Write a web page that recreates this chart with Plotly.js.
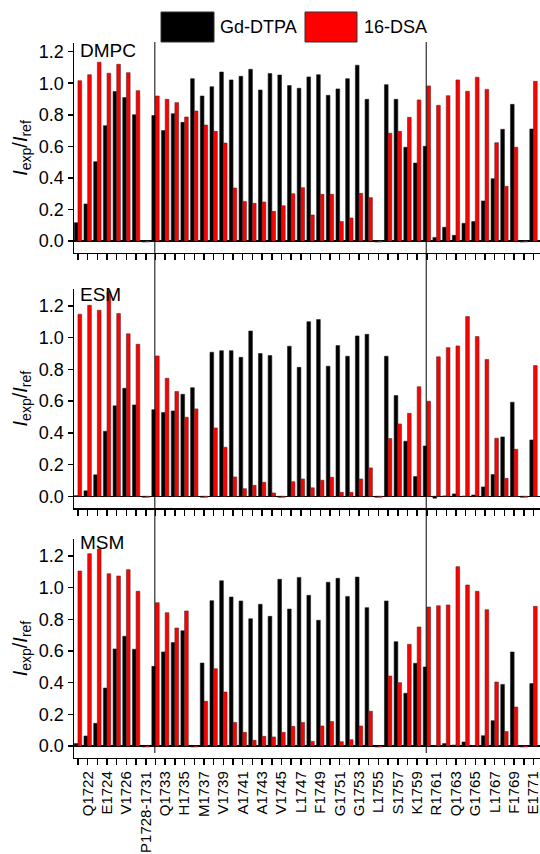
<!DOCTYPE html>
<html>
<head>
<meta charset="utf-8">
<script src="https://cdn.plot.ly/plotly-3.0.1.min.js"></script>
<style>html,body{margin:0;padding:0;background:#fff;}#chart{width:540px;height:854px;}</style>
</head>
<body>
<div id="chart"></div>
<script>
// Residue categories (x axis)
const categories = ['1721','Q1722','1723','E1724','1725','V1726','1727','P1728-1731','1732','Q1733','1734','H1735','1736','M1737','1738','V1739','1740','A1741','1742','A1743','1744','V1745','1746','L1747','1748','F1749','1750','G1751','1752','G1753','1754','L1755','1756','S1757','1758','K1759','1760','R1761','1762','Q1763','1764','G1765','1766','L1767','1768','F1769','1770','E1771'];
// Tick labels shown (every other residue)
const tickLabels = ['Q1722','E1724','V1726','P1728-1731','Q1733','H1735','M1737','V1739','A1741','A1743','V1745','L1747','F1749','G1751','G1753','L1755','S1757','K1759','R1761','Q1763','G1765','L1767','F1769','E1771'];
const yTicks = [0, 0.2, 0.4, 0.6, 0.8, 1.0, 1.2];
const seriesNames = ['Gd-DTPA', '16-DSA'];
const panelNames = ['DMPC', 'ESM', 'MSM'];

// I_exp / I_ref values
const dmpcGd  = [0.116,0.235,0.503,0.731,0.947,0.909,0.80,-0.006,0.795,0.70,0.807,0.752,1.029,0.919,0.978,1.071,1.021,1.044,1.088,0.957,1.061,1.052,0.985,0.968,1.04,1.054,0.923,0.964,1.029,1.114,0.898,-0.006,0.991,0.898,0.594,0.494,0.60,0.023,0.087,0.036,0.112,0.123,0.254,0.395,0.708,0.866,-0.006,0.71];
const dmpcDsa = [1.016,1.054,1.133,1.063,1.12,1.067,0.953,-0.006,0.919,0.898,0.877,0.786,0.824,0.735,0.695,0.621,0.336,0.251,0.239,0.247,0.188,0.224,0.30,0.338,0.165,0.296,0.296,0.123,0.146,0.302,0.275,-0.006,0.683,0.695,0.784,0.894,0.983,0.86,0.921,1.021,0.949,1.038,0.961,0.623,0.347,0.594,-0.006,1.012];
const esmGd   = [0.004,0.034,0.135,0.41,0.57,0.681,0.576,-0.006,0.546,0.528,0.538,0.643,0.685,-0.006,0.908,0.918,0.918,0.876,1.042,0.90,0.887,-0.006,0.946,0.813,1.101,1.114,0.82,0.95,0.883,1.011,1.021,-0.006,0.883,0.635,0.347,0.124,0.317,-0.012,0.002,0.015,0.0,0.008,0.059,0.137,0.374,0.593,-0.006,0.355];
const esmDsa  = [1.148,1.204,1.173,1.29,1.152,1.024,0.958,-0.006,0.885,0.744,0.66,0.498,0.551,-0.006,0.431,0.309,0.122,0.048,0.069,0.088,0.021,-0.006,0.092,0.109,0.053,0.101,0.12,0.025,0.025,0.109,0.179,-0.006,0.364,0.456,0.523,0.691,0.599,0.879,0.937,0.948,1.133,1.007,0.862,0.366,0.113,0.296,-0.006,0.824];
const msmGd   = [0.015,0.063,0.143,0.366,0.613,0.693,0.611,-0.006,0.503,0.594,0.653,0.728,-0.006,0.524,0.918,1.044,0.941,0.916,0.804,0.895,0.819,1.053,0.865,1.065,0.952,0.794,1.034,1.059,0.945,1.067,0.874,-0.006,0.916,0.659,0.333,0.522,0.499,0.003,0.015,0.006,0.025,0.002,0.065,0.16,0.389,0.594,-0.006,0.394];
const msmDsa  = [1.105,1.215,1.244,1.088,1.074,1.114,0.977,-0.006,0.905,0.842,0.745,0.853,-0.006,0.282,0.488,0.341,0.149,0.086,0.036,0.061,0.057,0.086,0.124,0.149,0.029,0.126,0.154,0.027,0.04,0.126,0.219,-0.006,0.442,0.40,0.642,0.752,0.878,0.886,0.891,1.133,1.017,0.977,0.861,0.404,0.091,0.246,-0.006,0.882];
const dividerResidues = ['1732', '1760'];

const colors = ['#000000', '#ff0000'];
const panelData = [[dmpcGd, dmpcDsa], [esmGd, esmDsa], [msmGd, msmDsa]];
const FONT = 'Liberation Sans, Arial, Helvetica, sans-serif';

// numeric positions of categories on the axis
const xPos = categories.map((c, i) => i);
const tickPos = tickLabels.map(t => categories.indexOf(t));

const traces = [];
panelData.forEach((pair, p) => {
  const sfx = p === 0 ? '' : String(p + 1);
  pair.forEach((vals, s) => {
    traces.push({
      type: 'bar', x: xPos, y: vals, name: seriesNames[s],
      customdata: categories, hovertemplate: '%{customdata}: %{y}<extra>' + seriesNames[s] + '</extra>',
      legendgroup: seriesNames[s], showlegend: false,
      marker: {color: colors[s], line: {color: s === 0 ? '#222' : '#5a2a2a', width: 0.6}},
      xaxis: 'x' + sfx, yaxis: 'y' + sfx
    });
  });
});

const W = 540, H = 854;
const py = px => 1 - px / H;
const domains = [[py(252.7), py(43.3)], [py(508), py(289.3)], [py(757.7), py(539.4)]];
const ranges = [[-0.074, 1.253], [-0.074, 1.305], [-0.074, 1.305]];
const labelY = [0.968, 0.974, 0.986];

const layout = {
  width: W, height: H,
  margin: {l: 0, r: 0, t: 0, b: 0},
  paper_bgcolor: '#fff', plot_bgcolor: '#fff',
  font: {family: FONT, color: '#000'},
  barmode: 'group', bargap: 0.24, bargroupgap: 0,
  showlegend: false,
  shapes: [], annotations: []
};

for (let p = 0; p < 3; p++) {
  const sfx = p === 0 ? '' : String(p + 1);
  layout['xaxis' + sfx] = {
    type: 'linear', domain: [74 / W, 1], range: [-0.41, 47.67],
    anchor: 'y' + sfx,
    showline: true, linecolor: '#000', linewidth: 1.5,
    ticks: 'outside', ticklen: 6, tickwidth: 1.5, tickcolor: '#000',
    tickmode: 'array', tickvals: tickPos, ticktext: tickLabels,
    minor: {tickmode: 'linear', tick0: 0, dtick: 1, ticks: 'outside', ticklen: 6, tickwidth: 1.5, tickcolor: '#000', showgrid: false},
    tickangle: -90, tickfont: {size: 15, family: FONT}, ticklabeloverflow: 'allow',
    showticklabels: p === 2, showgrid: false, zeroline: false, fixedrange: true
  };
  layout['yaxis' + sfx] = {
    domain: domains[p], range: ranges[p], anchor: 'x' + sfx,
    showline: true, linecolor: '#000', linewidth: 1.5,
    ticks: 'outside', ticklen: 5, tickwidth: 1.5, tickcolor: '#000',
    tickmode: 'array', tickvals: yTicks, tickformat: '.1f',
    tickfont: {size: 18, family: FONT},
    showgrid: false, zeroline: true, zerolinecolor: '#000', zerolinewidth: 1.5,
    title: {text: '<i>I</i><sub>exp</sub>/<i>I</i><sub>ref</sub>', font: {size: 20, family: FONT}, standoff: 6},
    fixedrange: true
  };
  layout.annotations.push({
    text: panelNames[p], xref: 'x' + sfx + ' domain', yref: 'y' + sfx + ' domain',
    x: 0.008, y: labelY[p], xanchor: 'left', yanchor: 'middle', showarrow: false,
    font: {size: 19, family: FONT}
  });
}

// vertical divider lines through all panels
dividerResidues.forEach(r => {
  const i = categories.indexOf(r) - 0.07;
  layout.shapes.push({type: 'line', xref: 'x', yref: 'paper', x0: i, x1: i, y0: py(753), y1: py(42),
    line: {color: '#000', width: 1}});
});

// legend (large swatches as in the reference)
const legendBoxes = [[161, 214], [305, 357]];
const legendText = [218, 362];
seriesNames.forEach((n, s) => {
  layout.shapes.push({type: 'rect', xref: 'paper', yref: 'paper',
    x0: legendBoxes[s][0] / W, x1: legendBoxes[s][1] / W, y0: py(42), y1: py(12),
    fillcolor: colors[s], line: {color: '#333', width: 1}});
  layout.annotations.push({text: n, xref: 'paper', yref: 'paper', x: legendText[s] / W, y: py(27),
    xanchor: 'left', yanchor: 'middle', showarrow: false, font: {size: 18, family: FONT}});
});

Plotly.newPlot('chart', traces, layout, {displayModeBar: false, staticPlot: true});
</script>
</body>
</html>
